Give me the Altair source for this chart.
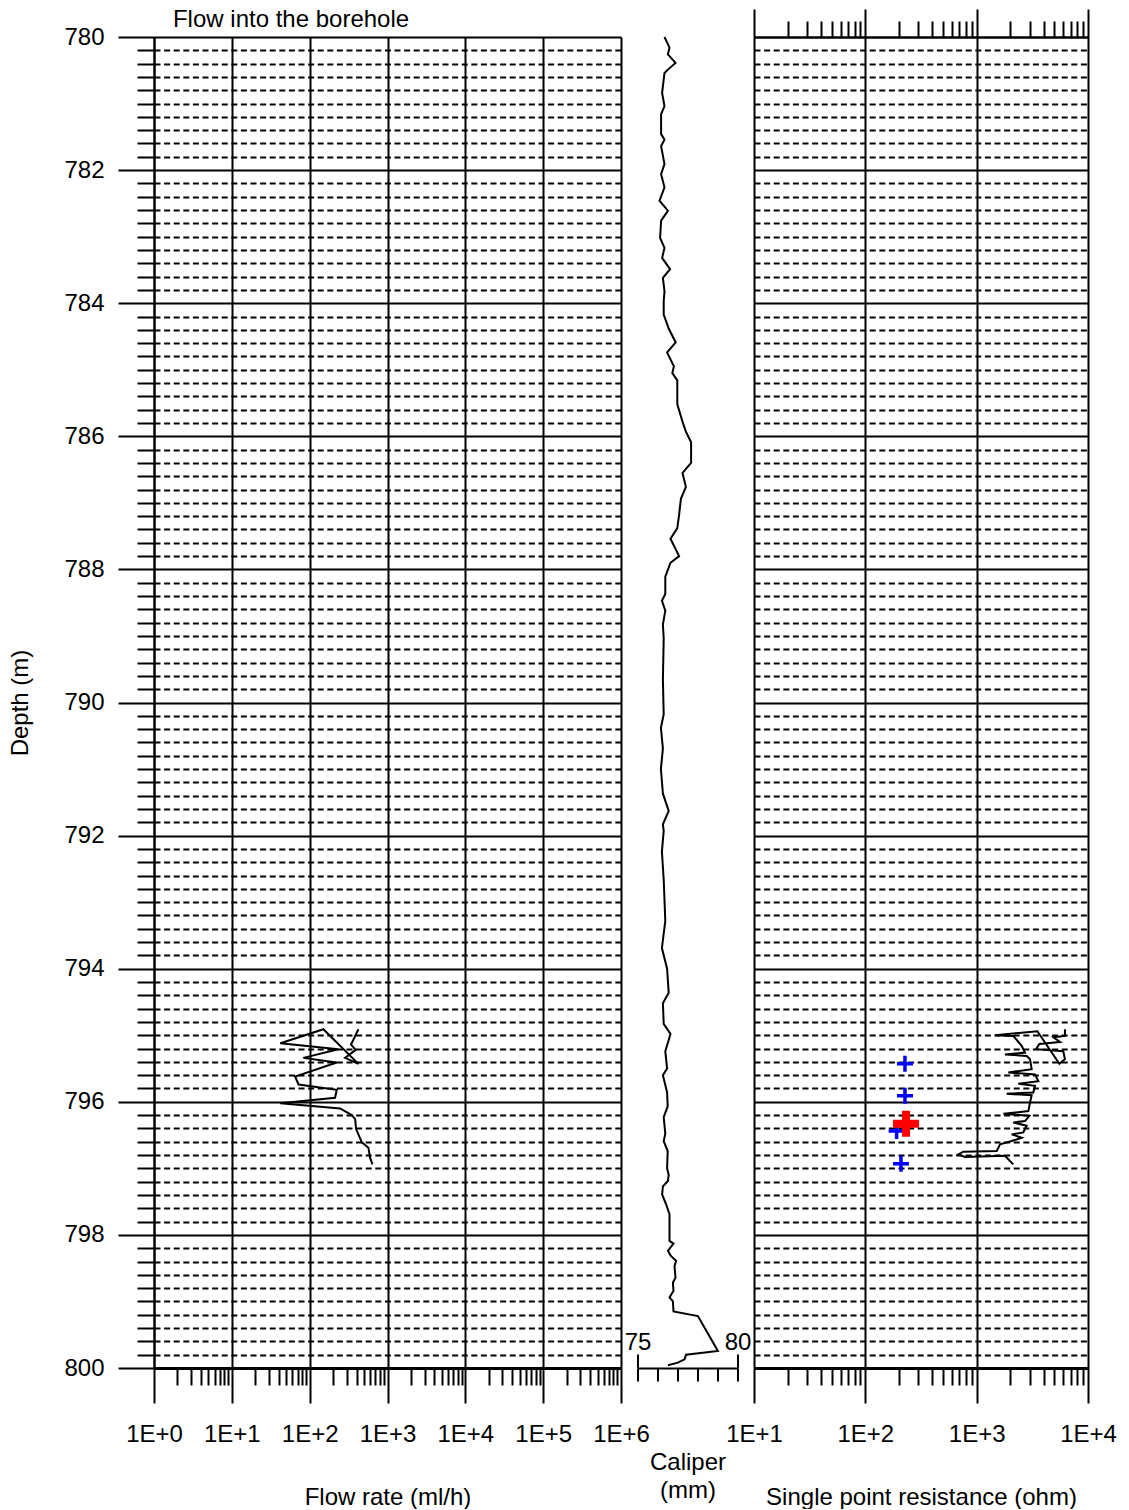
import altair as alt
import pandas as pd

FONT = "Liberation Sans"

# ---- axis tick values ----
depth_major = [780, 782, 784, 786, 788, 790, 792, 794, 796, 798, 800]
depth_minor = [round(780 + 0.2 * i, 1) for i in range(101) if i % 10 != 0]
flow_ticks = [1, 10, 100, 1000, 10000, 100000, 1000000]
flow_minor = [m * d for d in flow_ticks[:-1] for m in range(2, 10)]
res_ticks = [10, 100, 1000, 10000]
res_minor = [m * d for d in res_ticks[:-1] for m in range(2, 10)]
cal_ticks = [75, 76, 77, 78, 79, 80]
cal_end_ticks = [75, 80]

# ---- flow into the borehole (ml/h) ----
flow_depth = [794.91, 795.14, 795.22, 795.34, 795.43, 794.91, 795.12, 795.21, 795.34, 795.41,
              795.62, 795.74, 795.82, 795.94, 796.02, 796.10, 796.20, 796.26, 796.41, 796.61,
              796.69, 796.84, 796.94]
flow_rate = [423, 340, 391, 285, 423, 150, 42, 234, 83, 223,
             65, 72, 223, 212, 42, 246, 348, 384, 395, 468,
             569, 597, 640]

# ---- caliper (mm) ----
cal_depth = [780.0, 780.16, 780.26, 780.39, 780.49, 780.54, 780.84, 781.04, 781.16, 781.46,
             781.54, 781.64, 781.91, 782.06, 782.26, 782.46, 782.61, 782.76, 783.02, 783.17,
             783.32, 783.49, 783.62, 783.82,
             783.97, 784.17, 784.38, 784.59, 784.74, 784.95, 785.05, 785.16, 785.52, 785.78,
             785.93, 786.09, 786.40, 786.55, 786.76, 786.94, 787.18, 787.38, 787.54, 787.80,
             787.90, 788.11, 788.37, 788.47, 788.62, 788.83, 789.04, 789.66, 790.18, 790.38,
             790.69, 791.00, 791.37, 791.63, 791.83,
             791.93, 792.24, 792.66, 793.28, 793.69, 794.00, 794.36, 794.52, 794.83, 794.98,
             795.24, 795.50, 795.60, 795.86, 796.07, 796.23, 796.48, 796.59, 796.74, 797.00,
             797.10,
             797.19, 797.27, 797.39, 797.54, 797.69, 798.09, 798.13, 798.24, 798.32, 798.39,
             798.47, 798.64, 798.72, 798.84, 798.94, 799.00, 799.15, 799.22, 799.745, 799.80,
             799.87, 799.92, 799.96]
cal_mm = [76.35, 76.6, 76.52, 76.9, 76.52, 76.35, 76.23, 76.35, 76.18, 76.18,
          76.35, 76.18, 76.35, 76.18, 76.35, 76.1, 76.52, 76.18, 76.13, 76.35,
          76.23, 76.63, 76.27, 76.35,
          76.31, 76.31, 76.56, 76.91, 76.48, 76.82, 76.74, 76.99, 76.99, 77.25,
          77.42, 77.68, 77.68, 77.25, 77.42, 77.17, 77.08, 76.99, 76.65, 77.08,
          76.65, 76.39, 76.39, 76.22, 76.39, 76.27, 76.31, 76.27, 76.31, 76.17,
          76.27, 76.17, 76.27, 76.56, 76.27,
          76.31, 76.22, 76.31, 76.39, 76.22, 76.48, 76.56, 76.27, 76.31, 76.65,
          76.39, 76.48, 76.27, 76.48, 76.51, 76.31, 76.39, 76.31, 76.51, 76.48,
          76.56,
          76.52, 76.27, 76.23, 76.43, 76.6, 76.6, 76.8, 76.52, 76.68, 76.93,
          76.85, 76.9, 76.77, 76.8, 76.6, 76.77, 76.8, 78.02, 79.02, 77.43,
          77.35, 77.02, 76.52]

# ---- single point resistance (ohm) ----
res_depth = [794.91, 795.01, 795.03, 795.10, 795.13, 795.21, 795.24, 795.36, 795.43, 794.94,
             795.00, 795.01, 795.16, 795.26, 795.29, 795.31, 795.36, 795.51, 795.56, 795.59,
             795.69, 795.73, 795.76, 795.86, 795.88, 795.90, 796.01, 796.14, 796.18, 796.21,
             796.29, 796.31, 796.36, 796.46, 796.49, 796.54, 796.59, 796.64, 796.74, 796.75,
             796.79, 796.83, 796.81, 796.89, 796.94]
res_ohm = [6209, 6209, 4887, 5610, 3656, 3412, 5998, 6209, 5534, 3508,
           1462, 2134, 2535, 2716, 1795, 2812, 3013, 3119, 1923, 3342,
           3581, 2366, 3342, 3228, 1858, 3119, 3013, 2911, 1737, 2972,
           2716, 2134, 2812, 2624, 2061, 2535, 2061, 1622, 1514, 759,
           684, 785, 1795, 1991, 2134]

# ---- flow anomaly markers ----
blue_depth = [795.43, 795.91, 796.44, 796.93]
blue_ohm = [227, 227, 191, 209]
red_depth = [796.33]
red_ohm = [232]

H = 1331
W_FLOW = 467
W_CAL = 100
W_RES = 334
PLUS = "M-1,0H1M0,-1V1"
DASH = [6, 3.6]

flow_df = pd.DataFrame({"order": range(len(flow_depth)), "depth": flow_depth, "flow": flow_rate})
cal_df = pd.DataFrame({"order": range(len(cal_depth)), "depth": cal_depth, "mm": cal_mm})
res_df = pd.DataFrame({"order": range(len(res_depth)), "depth": res_depth, "ohm": res_ohm})
blue_df = pd.DataFrame({"depth": blue_depth, "ohm": blue_ohm})
red_df = pd.DataFrame({"depth": red_depth, "ohm": red_ohm})

yscale = alt.Scale(domain=[780, 800], reverse=True, nice=False, zero=False)
flow_scale = alt.Scale(type="log", domain=[1, 1000000], nice=False)
res_scale = alt.Scale(type="log", domain=[10, 10000], nice=False)
cal_scale = alt.Scale(domain=[75, 80], nice=False, zero=False)

decade_expr = "'1E+' + round(log(datum.value) / LN10)"

# ================= Flow panel =================
flow_main = alt.Chart(flow_df).mark_line(color="black", strokeWidth=2).encode(
    x=alt.X("flow:Q", scale=flow_scale,
            axis=alt.Axis(orient="bottom", values=flow_ticks, tickSize=35, labelPadding=19,
                          labelExpr=decade_expr, labelFlush=False, labelOverlap=False,
                          grid=True, gridDash=[], domainWidth=3,
                          title="Flow rate (ml/h)", titlePadding=39)),
    y=alt.Y("depth:Q", scale=yscale,
            axis=alt.Axis(orient="left", values=depth_major, tickSize=36, labelPadding=14,
                          format="d", labelFlush=False, labelOverlap=False,
                          grid=True, gridDash=[], domain=True,
                          title="Depth (m)", titlePadding=31)),
    order="order:Q",
)
flow_minor_layer = alt.Chart(flow_df).mark_line(opacity=0).encode(
    x=alt.X("flow:Q", scale=flow_scale,
            axis=alt.Axis(orient="bottom", values=flow_minor, tickSize=17, labels=False,
                          grid=False, domain=False, title="")),
    y=alt.Y("depth:Q", scale=yscale,
            axis=alt.Axis(orient="left", values=depth_minor, tickSize=17, labels=False,
                          grid=True, gridDash=DASH, gridWidth=1.8, domain=False, title="")),
    order="order:Q",
)
flow_panel = alt.layer(flow_minor_layer, flow_main).resolve_axis(
    x="independent", y="independent"
).properties(
    width=W_FLOW, height=H,
    title=alt.TitleParams(text="Flow into the borehole", anchor="start", dx=164,
                          font=FONT, fontSize=24, fontWeight="normal", color="black",
                          baseline="alphabetic", offset=-26),
)

# ================= Caliper panel =================
cal_main = alt.Chart(cal_df).mark_line(color="black", strokeWidth=2).encode(
    x=alt.X("mm:Q", scale=cal_scale,
            axis=alt.Axis(orient="bottom", values=cal_ticks, tickSize=13, labels=False,
                          grid=False, domainWidth=2,
                          title=["Caliper", "(mm)"], titlePadding=68, titleLineHeight=28)),
    y=alt.Y("depth:Q", scale=yscale, axis=None),
    order="order:Q",
)
cal_top = alt.Chart(cal_df).mark_line(opacity=0).encode(
    x=alt.X("mm:Q", scale=cal_scale,
            axis=alt.Axis(orient="top", offset=-H, values=cal_end_ticks, tickSize=14,
                          labelPadding=0, labelFlush=False, labelOverlap=False,
                          grid=False, domain=False, title="")),
    y=alt.Y("depth:Q", scale=yscale, axis=None),
    order="order:Q",
)
cal_panel = alt.layer(cal_top, cal_main).resolve_axis(x="independent").properties(
    width=W_CAL, height=H
)

# ================= Resistance panel =================
res_main = alt.Chart(res_df).mark_line(color="black", strokeWidth=2).encode(
    x=alt.X("ohm:Q", scale=res_scale,
            axis=alt.Axis(orient="bottom", values=res_ticks, tickSize=35, labelPadding=19,
                          labelExpr=decade_expr, labelFlush=False, labelOverlap=False,
                          grid=True, gridDash=[], domainWidth=3,
                          title="Single point resistance (ohm)", titlePadding=39)),
    y=alt.Y("depth:Q", scale=yscale,
            axis=alt.Axis(orient="left", values=depth_major, ticks=False, labels=False,
                          grid=True, gridDash=[], domain=False, title="")),
    order="order:Q",
)
res_minor_layer = alt.Chart(res_df).mark_line(opacity=0).encode(
    x=alt.X("ohm:Q", scale=res_scale,
            axis=alt.Axis(orient="bottom", values=res_minor, tickSize=17, labels=False,
                          grid=False, domain=False, title="")),
    y=alt.Y("depth:Q", scale=yscale,
            axis=alt.Axis(orient="left", values=depth_minor, ticks=False, labels=False,
                          grid=True, gridDash=DASH, gridWidth=1.8, domain=False, title="")),
    order="order:Q",
)
res_top_major = alt.Chart(res_df).mark_line(opacity=0).encode(
    x=alt.X("ohm:Q", scale=res_scale,
            axis=alt.Axis(orient="top", values=res_ticks, tickSize=28, labels=False,
                          grid=False, domain=True, domainWidth=2, title="")),
    y=alt.Y("depth:Q", scale=yscale, axis=None),
    order="order:Q",
)
res_top_minor = alt.Chart(res_df).mark_line(opacity=0).encode(
    x=alt.X("ohm:Q", scale=res_scale,
            axis=alt.Axis(orient="top", values=res_minor, tickSize=16, labels=False,
                          grid=False, domain=False, title="")),
    y=alt.Y("depth:Q", scale=yscale, axis=None),
    order="order:Q",
)
blue_pts = alt.Chart(blue_df).mark_point(
    shape=PLUS, filled=False, color="#0000ff", strokeWidth=3.5, size=256, opacity=1
).encode(
    x=alt.X("ohm:Q", scale=res_scale, axis=None),
    y=alt.Y("depth:Q", scale=yscale, axis=None),
)
red_pts = alt.Chart(red_df).mark_point(
    shape=PLUS, filled=False, color="#ff0000", strokeWidth=8, size=676, opacity=1
).encode(
    x=alt.X("ohm:Q", scale=res_scale, axis=None),
    y=alt.Y("depth:Q", scale=yscale, axis=None),
)
res_panel = alt.layer(
    res_minor_layer, res_top_minor, res_top_major, res_main, blue_pts, red_pts
).resolve_axis(x="independent", y="independent").properties(width=W_RES, height=H)

chart = alt.hconcat(flow_panel, cal_panel, res_panel, spacing=16.5, bounds="flush").properties(
    padding=0
).configure_axis(
    labelFont=FONT, labelFontSize=24, labelColor="black",
    titleFont=FONT, titleFontSize=24, titleFontWeight="normal", titleColor="black",
    tickColor="black", domainColor="black", gridColor="black", gridOpacity=1,
    tickWidth=2, domainWidth=2, gridWidth=2, minExtent=0,
).configure_view(strokeWidth=0)

chart.save("out.html", embed_options={"renderer": "svg", "actions": False})
